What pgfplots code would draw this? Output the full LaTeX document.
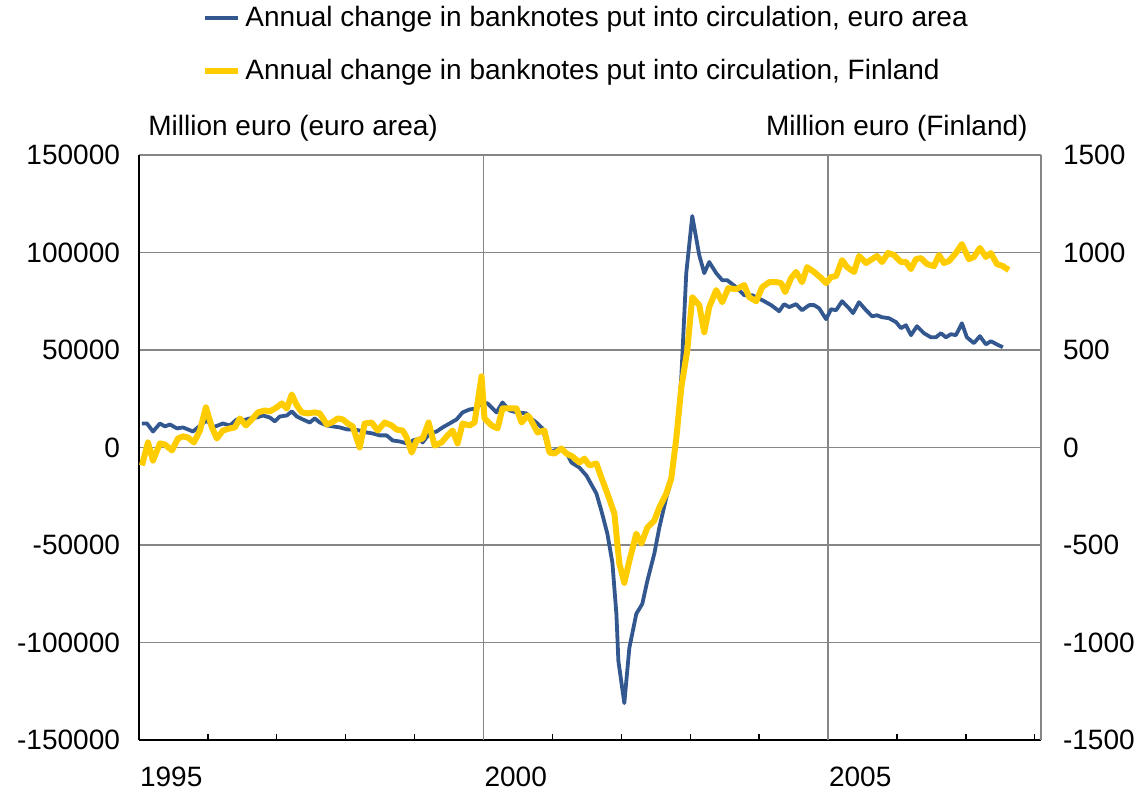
\documentclass[border=0pt]{standalone}
\usepackage{fontspec}
\setmainfont{Liberation Sans}
\usepackage{pgfplots}
\pgfplotsset{compat=1.18}
\usepackage{pgfplotstable}
\definecolor{eablue}{RGB}{51,87,143}
\definecolor{fiyellow}{RGB}{255,204,0}
\definecolor{gridgrey}{RGB}{134,134,134}

\pgfplotstableread{
x y
1995.043 12300
1995.116 12300
1995.203 8200
1995.304 12300
1995.377 10800
1995.449 11800
1995.551 9800
1995.638 10300
1995.783 8200
1995.855 10300
1995.986 13900
1996.072 10300
1996.217 12300
1996.319 11300
1996.420 14400
1996.507 13900
1996.609 14900
1996.710 15400
1996.797 16400
1996.899 15400
1996.971 13400
1997.043 15900
1997.145 16400
1997.217 18500
1997.290 15900
1997.377 14400
1997.478 12800
1997.551 14900
1997.623 12800
1997.725 11300
1997.812 10800
1997.913 10300
1998.014 9300
1998.101 9300
1998.203 8700
1998.304 7700
1998.391 7200
1998.493 6200
1998.594 6200
1998.681 3600
1998.783 3100
1998.884 2100
1998.928 1000
1998.971 3600
1999.072 4600
1999.116 2600
1999.217 7200
1999.319 8200
1999.406 10300
1999.507 12300
1999.609 14400
1999.696 18000
1999.797 19500
1999.899 20000
1999.971 23100
2000.058 22600
2000.188 18000
2000.275 23100
2000.377 19000
2000.478 18000
2000.623 17500
2000.667 15400
2000.768 12800
2000.855 9800
2000.957 -2600
2001.101 -500
2001.203 -2600
2001.275 -7700
2001.391 -10300
2001.493 -14400
2001.638 -23600
2001.710 -32400
2001.797 -44200
2001.870 -59100
2001.928 -85300
2001.957 -109500
2002.043 -131100
2002.116 -102800
2002.217 -85300
2002.304 -80200
2002.377 -68400
2002.478 -54500
2002.551 -41100
2002.652 -25700
2002.696 -20600
2002.797 3000
2002.870 36000
2002.942 89400
2003.029 118700
2003.130 98700
2003.203 89400
2003.275 95100
2003.377 89400
2003.464 85800
2003.536 85800
2003.667 82200
2003.783 78100
2003.899 78100
2004.043 75600
2004.174 73000
2004.290 69900
2004.362 73500
2004.435 72000
2004.536 73500
2004.623 70400
2004.725 73000
2004.797 73000
2004.870 71400
2004.971 65800
2005.043 70900
2005.116 70400
2005.203 75000
2005.304 71400
2005.362 68900
2005.449 74500
2005.551 70400
2005.638 67300
2005.710 67800
2005.783 66800
2005.884 66300
2005.986 64300
2006.058 61200
2006.130 62700
2006.203 57600
2006.290 62200
2006.391 58600
2006.493 56500
2006.565 56500
2006.638 58600
2006.710 56500
2006.783 58100
2006.855 57600
2006.942 63700
2007.014 56500
2007.116 53500
2007.203 57100
2007.290 52900
2007.362 54500
2007.449 52900
2007.536 51400
}\eadata

\pgfplotstableread{
x y
1995.043 -92
1995.130 26
1995.203 -67
1995.304 21
1995.377 15
1995.478 -15
1995.565 46
1995.638 57
1995.710 51
1995.797 26
1995.884 87
1995.971 206
1996.058 103
1996.130 46
1996.217 87
1996.319 98
1996.391 103
1996.464 149
1996.551 113
1996.638 144
1996.725 180
1996.826 190
1996.899 185
1997.000 206
1997.072 226
1997.145 200
1997.217 272
1997.290 216
1997.362 180
1997.449 175
1997.551 180
1997.623 175
1997.725 118
1997.797 128
1997.884 149
1997.957 144
1998.029 123
1998.101 108
1998.203 0
1998.275 123
1998.377 128
1998.464 87
1998.565 128
1998.667 113
1998.739 92
1998.826 87
1998.884 51
1998.957 -26
1999.029 36
1999.116 46
1999.203 128
1999.290 10
1999.391 26
1999.478 62
1999.551 87
1999.623 21
1999.696 123
1999.797 113
1999.870 128
1999.971 365
2000.014 149
2000.116 113
2000.203 98
2000.275 200
2000.377 200
2000.478 200
2000.551 128
2000.638 164
2000.667 154
2000.783 77
2000.884 87
2000.957 -26
2001.029 -31
2001.130 -5
2001.203 -31
2001.290 -46
2001.391 -77
2001.464 -57
2001.536 -92
2001.638 -82
2001.710 -154
2001.797 -236
2001.899 -339
2001.971 -596
2002.043 -694
2002.116 -581
2002.217 -442
2002.290 -493
2002.377 -411
2002.478 -375
2002.551 -308
2002.652 -236
2002.725 -159
2002.797 46
2002.870 308
2002.957 499
2003.029 771
2003.130 730
2003.203 591
2003.275 720
2003.377 807
2003.464 745
2003.551 817
2003.667 812
2003.783 833
2003.855 771
2003.957 750
2004.043 822
2004.145 848
2004.246 848
2004.319 843
2004.377 797
2004.464 869
2004.536 900
2004.623 848
2004.696 925
2004.797 900
2004.899 869
2004.971 843
2005.043 874
2005.116 879
2005.203 961
2005.275 925
2005.377 900
2005.449 982
2005.551 946
2005.638 966
2005.710 982
2005.783 951
2005.870 997
2005.957 987
2006.058 951
2006.130 951
2006.203 915
2006.275 966
2006.348 971
2006.435 941
2006.536 930
2006.609 987
2006.681 946
2006.754 956
2006.855 997
2006.942 1043
2007.043 966
2007.116 977
2007.203 1023
2007.290 977
2007.362 997
2007.449 941
2007.536 930
2007.623 910
}\fidata

\begin{document}
\begin{tikzpicture}[font=\fontsize{14}{16.8}\selectfont]
\useasboundingbox (-69.5pt,-27.5pt) rectangle (500.5pt,370pt);
\begin{axis}[
  at={(0pt,0pt)}, anchor=south west,
  scale only axis, width=451pt, height=292.5pt,
  xmin=1995, xmax=2008.09, ymin=-150000, ymax=150000,
  axis x line*=bottom, axis y line*=left,
  axis line style={-, black, line width=1pt},
  xtick={1995,...,2008},
  xticklabels={1995,,,,,2000,,,,,2005,,,},
  xticklabel style={anchor=north west, xshift=-3pt, yshift=-10pt},
  x tick style={black, line width=0.7pt},
  tick align=inside,
  major tick length=3pt,
  ytick={-150000,-100000,...,150000},
  y tick style={draw=none},
  scaled y ticks=false,
  yticklabel style={/pgf/number format/fixed, /pgf/number format/1000 sep={}, /pgf/number format/assume math mode=true, xshift=-6pt},
  ymajorgrids,
  grid style={gridgrey, line width=0.75pt},
  extra x ticks={2000,2005},
  extra x tick labels={},
  extra x tick style={grid=major, major tick length=0pt},
]
\addplot[eablue, line width=1.9pt, line join=round] table {\eadata};
\end{axis}
\begin{axis}[
  at={(0pt,0pt)}, anchor=south west,
  scale only axis, width=451pt, height=292.5pt,
  xmin=1995, xmax=2008.09, ymin=-1500, ymax=1500,
  axis x line=none, axis y line*=right,
  y axis line style={-, gridgrey, line width=0.75pt},
  ytick={-1500,-1000,...,1500},
  y tick style={draw=none},
  scaled y ticks=false,
  yticklabel style={/pgf/number format/fixed, /pgf/number format/1000 sep={}, /pgf/number format/assume math mode=true, xshift=7.5pt},
  legend style={at={(axis description cs:0.0699,1.1892)}, anchor=west, draw=none, fill=none, inner sep=0pt, row sep=11pt},
  legend cell align=left,
  legend image code/.code={\draw[#1] (0pt,0pt) -- (16.5pt,0pt);},
]
\addlegendimage{eablue, line width=1.9pt}
\addlegendentry{Annual change in banknotes put into circulation, euro area}
\addplot[fiyellow, line width=3pt, line join=round] table {\fidata};
\addlegendentry{Annual change in banknotes put into circulation, Finland}
\end{axis}
\node[anchor=west, inner sep=0pt] at (4.5pt,306pt) {Million euro (euro area)};
\node[anchor=east, inner sep=0pt] at (444.5pt,306pt) {Million euro (Finland)};
\end{tikzpicture}
\end{document}
